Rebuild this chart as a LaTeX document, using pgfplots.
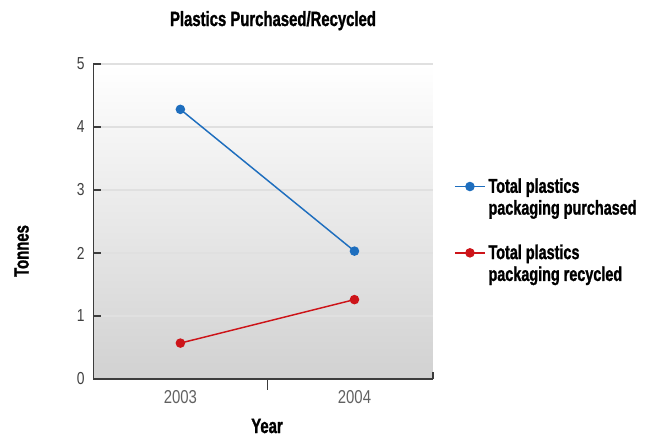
\documentclass[border=0pt]{standalone}
\usepackage{fontspec}
\setmainfont{Liberation Sans}
\newfontfamily\condfont[FakeStretch=0.8]{Liberation Sans}
\newfontfamily\headfont[FakeStretch=0.72, BoldFeatures={FakeBold=1.2}]{Liberation Sans}
\usepackage{pgfplots}
\pgfplotsset{compat=1.18}
\definecolor{bluel}{RGB}{30,110,190}
\definecolor{redl}{RGB}{205,20,25}
\definecolor{axisc}{RGB}{60,60,60}
\begin{document}
\begin{tikzpicture}
% canvas 663x436 px, 1px = 0.75pt
\path[use as bounding box] (0,0) rectangle (497.25pt,327pt);
\node[font=\headfont\bfseries\fontsize{15.5}{17}\selectfont] at (204.75pt,311.5pt) {Plastics Purchased/Recycled};
\node[font=\headfont\bfseries\fontsize{15.5}{17}\selectfont, rotate=90] at (16.2pt,138.75pt) {Tonnes};
\node[font=\headfont\bfseries\fontsize{15.5}{17}\selectfont, inner sep=1pt] at (200.25pt,7.5pt) {Year};
\begin{axis}[
  at={(70pt,42.75pt)}, anchor=south west,
  scale only axis, width=254.6pt, height=236.25pt,
  xmin=-0.5, xmax=1.45, ymin=0, ymax=5,
  axis x line*=bottom, axis y line*=left,
  axis line style={draw=axisc, line width=1.1pt},
  axis background/.style={shade, top color=white, bottom color=black!18},
  xtick={0,1}, xticklabels={2003,2004},
  xtick style={draw=none},
  ytick={0,1,2,3,4,5},
  ytick style={draw=axisc, line width=0.9pt},
  tick align=inside, major tick length=6pt,
  ymajorgrids, grid style={black!12, line width=0.8pt},
  /pgf/number format/assume math mode=true,
  yticklabel style={font=\condfont\fontsize{13}{13}\selectfont, text=black!75, xshift=-3pt},
  xticklabel style={font=\condfont\fontsize{14}{14}\selectfont, text=black!62, yshift=-5pt},
  legend style={at={(1.05,0.655)}, anchor=north west, draw=none, fill=none,
    font=\headfont\bfseries\fontsize{15}{16}\selectfont, row sep=0pt},
  legend cell align=left,
  legend image code/.code={\draw[mark repeat=2,mark phase=2] plot coordinates {(0cm,0cm) (0.4cm,0cm) (0.8cm,0cm)};},
  clip=false,
]
\addplot[bluel, line width=1.1pt, mark=*, mark size=3pt] coordinates {(0,4.28) (1,2.03)};
\addlegendentry{Total plastics}
\addlegendimage{empty legend}
\addlegendentry{packaging purchased}
\addlegendimage{empty legend}
\addlegendentry{\rule{0pt}{11.5pt}}
\addplot[redl, line width=1.1pt, mark=*, mark size=3pt] coordinates {(0,0.57) (1,1.26)};
\addlegendentry{Total plastics}
\addlegendimage{empty legend}
\addlegendentry{packaging recycled}
\draw[axisc, line width=1.1pt] (axis cs:0.5,0) -- ([yshift=-8pt]axis cs:0.5,0);
\draw[axisc, line width=1.1pt] (axis cs:1.45,0) -- ([yshift=5pt]axis cs:1.45,0);
\end{axis}
\end{tikzpicture}
\end{document}
